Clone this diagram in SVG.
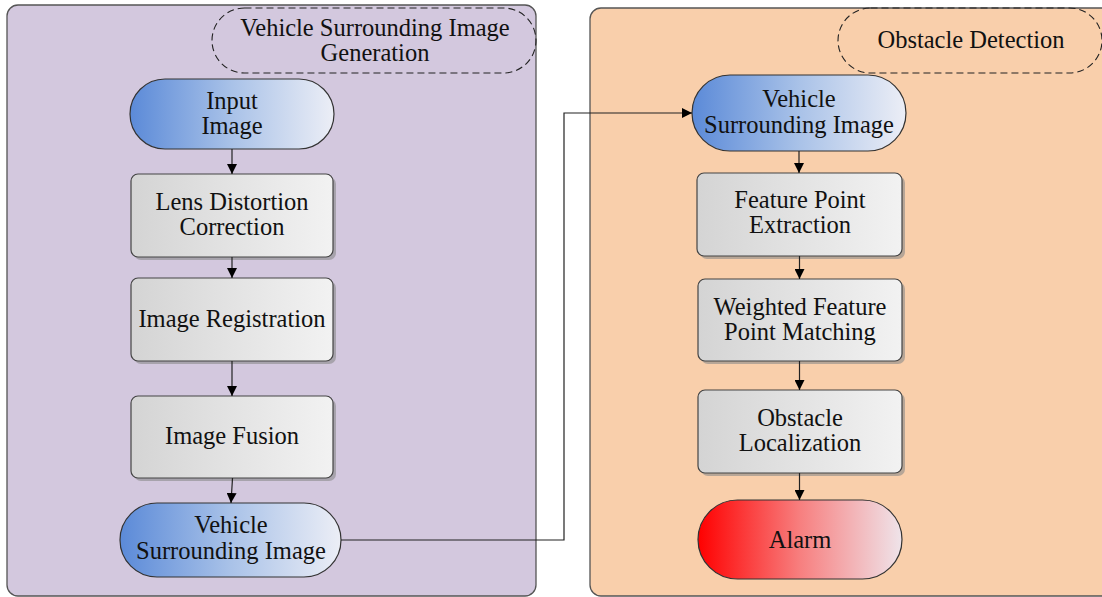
<svg xmlns="http://www.w3.org/2000/svg" width="1102" height="597" viewBox="0 0 1102 597">
<defs>
<linearGradient id="gBlue" x1="0" y1="0" x2="1" y2="0">
<stop offset="0" stop-color="#5b8ad8"/>
<stop offset="0.5" stop-color="#a9c2e8"/>
<stop offset="1" stop-color="#eceef6"/>
</linearGradient>
<linearGradient id="gGray" x1="0" y1="0" x2="1" y2="0">
<stop offset="0" stop-color="#d4d4d4"/>
<stop offset="1" stop-color="#f2f2f2"/>
</linearGradient>
<linearGradient id="gRed" x1="0" y1="0" x2="1" y2="0">
<stop offset="0" stop-color="#ff0000"/>
<stop offset="0.5" stop-color="#f77f7f"/>
<stop offset="1" stop-color="#efe4ea"/>
</linearGradient>
<marker id="arr" viewBox="0 0 10 10" refX="10" refY="5" markerWidth="10" markerHeight="10" markerUnits="userSpaceOnUse" orient="auto">
<path d="M0,0 L10,5 L0,10 Z" fill="#000"/>
</marker>
</defs>
<style>
text{font-family:"Liberation Serif","Times New Roman",serif;font-size:24.5px;fill:#111;text-anchor:middle}
.panel{stroke:#555;stroke-width:1.3}
.dash{fill:none;stroke:#222;stroke-width:1.1;stroke-dasharray:7 4}
.term{stroke:#333;stroke-width:1.2}
.box{fill:url(#gGray);stroke:#444;stroke-width:1.2}
.shadow{fill:#8a8a8a;opacity:0.6}
.conn{fill:none;stroke:#222;stroke-width:1.2;marker-end:url(#arr)}
</style>

<g id="panel-left">
<rect class="panel" x="7" y="5" width="529" height="591" rx="11" fill="#d3c8de"/>
<rect class="dash" x="212" y="8" width="324" height="65" rx="32.5"/>
<text x="375" y="36">Vehicle Surrounding Image</text>
<text x="375" y="61">Generation</text>
</g>

<g id="panel-right">
<rect class="panel" x="590" y="8" width="525" height="588" rx="11" fill="#f9cfab"/>
<rect class="dash" x="838" y="8" width="264" height="65" rx="32.5"/>
<text x="971" y="48">Obstacle Detection</text>
</g>

<g id="input-image">
<rect class="term" x="130" y="79" width="204" height="70" rx="35" fill="url(#gBlue)"/>
<text x="232" y="109">Input</text>
<text x="232" y="134">Image</text>
</g>

<g id="lens-distortion">
<rect class="shadow" x="134" y="177" width="202" height="83" rx="7"/>
<rect class="box" x="131" y="174" width="202" height="83" rx="7"/>
<text x="232" y="210">Lens Distortion</text>
<text x="232" y="235">Correction</text>
</g>

<g id="image-registration">
<rect class="shadow" x="134" y="281" width="202" height="83" rx="7"/>
<rect class="box" x="131" y="278" width="202" height="83" rx="7"/>
<text x="232" y="327">Image Registration</text>
</g>

<g id="image-fusion">
<rect class="shadow" x="134" y="399" width="202" height="82" rx="7"/>
<rect class="box" x="131" y="396" width="202" height="82" rx="7"/>
<text x="232" y="444">Image Fusion</text>
</g>

<g id="vsi-left">
<rect class="term" x="120" y="503" width="221" height="74" rx="37" fill="url(#gBlue)"/>
<text x="231" y="533">Vehicle</text>
<text x="231" y="559">Surrounding Image</text>
</g>

<g id="vsi-right">
<rect class="term" x="692" y="75" width="214" height="76" rx="38" fill="url(#gBlue)"/>
<text x="799" y="107">Vehicle</text>
<text x="799" y="133">Surrounding Image</text>
</g>

<g id="feature-extraction">
<rect class="shadow" x="700" y="176" width="205" height="83" rx="7"/>
<rect class="box" x="697" y="173" width="205" height="83" rx="7"/>
<text x="800" y="208">Feature Point</text>
<text x="800" y="233">Extraction</text>
</g>

<g id="feature-matching">
<rect class="shadow" x="701" y="282" width="204" height="82" rx="7"/>
<rect class="box" x="698" y="279" width="204" height="82" rx="7"/>
<text x="800" y="315">Weighted Feature</text>
<text x="800" y="340">Point Matching</text>
</g>

<g id="obstacle-localization">
<rect class="shadow" x="701" y="393" width="204" height="83" rx="7"/>
<rect class="box" x="698" y="390" width="204" height="83" rx="7"/>
<text x="800" y="426">Obstacle</text>
<text x="800" y="451">Localization</text>
</g>

<g id="alarm">
<rect class="term" x="698" y="500" width="204" height="79" rx="39.5" fill="url(#gRed)"/>
<text x="800" y="548">Alarm</text>
</g>

<g id="connectors">
<line class="conn" x1="232" y1="149" x2="232" y2="174"/>
<line class="conn" x1="232" y1="257" x2="232" y2="278"/>
<line class="conn" x1="232" y1="361" x2="232" y2="396"/>
<line class="conn" x1="232.5" y1="478" x2="231" y2="503"/>
<polyline class="conn" points="341,540 564,540 564,113 692,113"/>
<line class="conn" x1="799" y1="151" x2="799" y2="173"/>
<line class="conn" x1="799.5" y1="256" x2="799.5" y2="279"/>
<line class="conn" x1="799.5" y1="361" x2="799.5" y2="390"/>
<line class="conn" x1="799.5" y1="473" x2="799.5" y2="500"/>
</g>
</svg>
